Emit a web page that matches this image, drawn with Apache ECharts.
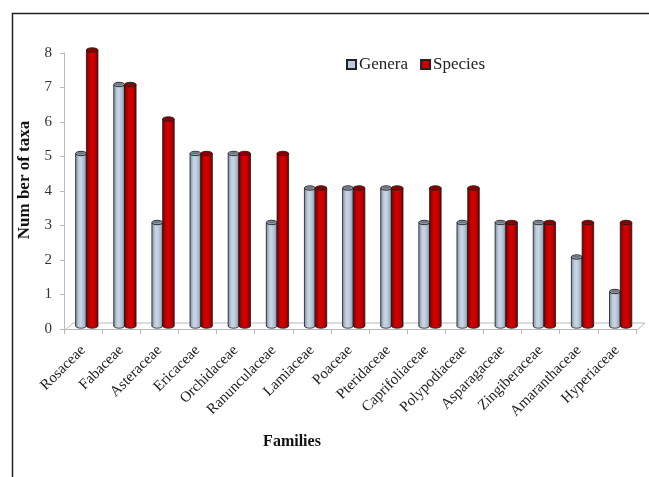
<!DOCTYPE html>
<html>
<head>
<meta charset="utf-8">
<script src="https://cdn.jsdelivr.net/npm/echarts@6/dist/echarts.min.js"></script>
<style>
  html, body { margin: 0; padding: 0; background: #fff; }
  #chart { width: 649px; height: 477px; }
</style>
</head>
<body>
<div id="chart"></div>
<script>
// Families and their counts of genera and species
const families = ['Rosaceae', 'Fabaceae', 'Asteraceae', 'Ericaceae', 'Orchidaceae', 'Ranunculaceae',
  'Lamiaceae', 'Poaceae', 'Pteridaceae', 'Caprifoliaceae', 'Polypodiaceae', 'Asparagaceae',
  'Zingiberaceae', 'Amaranthaceae', 'Hyperiaceae'];
const genera  = [5, 7, 3, 5, 5, 3, 4, 4, 4, 3, 3, 3, 3, 2, 1];
const species = [8, 7, 6, 5, 5, 5, 4, 4, 4, 4, 4, 3, 3, 3, 3];
const seriesNames = ['Genera', 'Species'];
const yMin = 0, yMax = 8, yStep = 1;

const serif = "'Liberation Serif', 'Times New Roman', serif";

// Cylinder shading per series
const palette = {
  Genera: {
    base: '#bccadb',
    body: ['#7f8da0', '#c0cee0', '#c8d5e5', '#a9b8cb', '#6f7c8e'],
    top: '#6b737d', topInner: '#9aa5b2'
  },
  Species: {
    base: '#cc0000',
    body: ['#7a0000', '#c80000', '#d40000', '#b80000', '#6a0000'],
    top: '#7a0000', topInner: '#a80000'
  }
};

// Each series draws a cylinder offset inside the category band
const bandOffsets = { Genera: [-0.195, 0.087], Species: [0.087, 0.39] };
const depth = 3;

function cylinder(name) {
  const pal = palette[name];
  return function (params, api) {
    const idx = api.value(0);
    const val = api.value(1);
    const top = api.coord([idx, val]);
    const base = api.coord([idx, 0]);
    const band = api.size([1, 0])[0];
    const x0 = top[0] + bandOffsets[name][0] * band;
    const x1 = top[0] + bandOffsets[name][1] * band;
    const w = x1 - x0;
    const cx = x0 + w / 2;
    const rx = w / 2;
    const ry = 2.2;
    const yTop = top[1] - depth;
    const yBot = base[1] - depth;
    const grad = new echarts.graphic.LinearGradient(0, 0, 1, 0, [
      { offset: 0, color: pal.body[0] },
      { offset: 0.3, color: pal.body[1] },
      { offset: 0.5, color: pal.body[2] },
      { offset: 0.8, color: pal.body[3] },
      { offset: 1, color: pal.body[4] }
    ]);
    return {
      type: 'group',
      children: [
        { type: 'ellipse', shape: { cx: cx, cy: yBot, rx: rx, ry: ry },
          style: { fill: grad, stroke: '#1a1a1a', lineWidth: 0.8 } },
        { type: 'rect', shape: { x: x0, y: yTop, width: w, height: yBot - yTop },
          style: { fill: grad, stroke: null } },
        { type: 'line', shape: { x1: x0, y1: yTop, x2: x0, y2: yBot },
          style: { stroke: '#1a1a1a', lineWidth: 0.8 } },
        { type: 'line', shape: { x1: x1, y1: yTop, x2: x1, y2: yBot },
          style: { stroke: '#1a1a1a', lineWidth: 0.8 } },
        { type: 'ellipse', shape: { cx: cx, cy: yTop, rx: rx, ry: ry },
          style: { fill: pal.topInner, stroke: '#1a1a1a', lineWidth: 0.9 } },
        { type: 'ellipse', shape: { cx: cx, cy: yTop - 0.3, rx: rx * 0.7, ry: ry * 0.45 },
          style: { fill: pal.top, stroke: null } }
      ]
    };
  };
}

// Back edge of the 3-D floor under the columns
function floor(params, api) {
  const cs = params.coordSys;
  const yFront = cs.y + cs.height + 2;
  const shiftX = 9, shiftY = 8;
  return {
    type: 'polyline',
    silent: true,
    shape: { points: [
      [cs.x, yFront],
      [cs.x + shiftX, yFront - shiftY],
      [cs.x + cs.width + shiftX, yFront - shiftY],
      [cs.x + cs.width, yFront]
    ] },
    style: { stroke: '#b8b8b8', lineWidth: 1, fill: null }
  };
}

const chart = echarts.init(document.getElementById('chart'), null, { renderer: 'canvas' });

chart.setOption({
  backgroundColor: '#ffffff',
  animation: false,
  textStyle: { fontFamily: serif },
  grid: { left: 64, right: 13, top: 53, bottom: 148, containLabel: false },
  legend: {
    data: seriesNames,
    left: 346, top: 56, padding: 0,
    icon: 'rect', itemWidth: 9, itemHeight: 9, itemGap: 12,
    textStyle: { fontFamily: serif, fontSize: 17, color: '#222', padding: [0, 0, 0, -2] }
  },
  xAxis: {
    type: 'category',
    data: families,
    offset: 2,
    name: 'Families',
    nameLocation: 'middle',
    nameGap: 103,
    nameTextStyle: { fontFamily: serif, fontSize: 16, fontWeight: 'bold', color: '#111', padding: [0, 116, 0, 0] },
    axisLine: { lineStyle: { color: '#b8b8b8', width: 1 } },
    axisTick: { show: true, length: 5, alignWithLabel: false, lineStyle: { color: '#b8b8b8' } },
    axisLabel: { rotate: 45, interval: 0, margin: 17, fontFamily: serif, fontSize: 15, color: '#222' }
  },
  yAxis: {
    type: 'value',
    min: yMin, max: yMax, interval: yStep,
    name: 'Num ber of taxa',
    nameLocation: 'middle',
    nameGap: 20,
    nameTextStyle: { fontFamily: serif, fontSize: 17, fontWeight: 'bold', color: '#111', padding: [0, 0, 0, 22] },
    axisLine: { show: true, lineStyle: { color: '#b8b8b8', width: 1 } },
    axisTick: { show: true, length: 4, lineStyle: { color: '#b8b8b8' } },
    axisLabel: { margin: 12, fontFamily: serif, fontSize: 15, color: '#333' },
    splitLine: { show: false }
  },
  graphic: [
    { type: 'rect', silent: true, z: -1,
      shape: { x: 12.5, y: 13.5, width: 700, height: 600 },
      style: { fill: null, stroke: '#222', lineWidth: 1.5 } }
  ],
  series: [
    { type: 'custom', name: 'floor', silent: true, renderItem: floor, data: [[0, 0]], z: 1,
      encode: { x: 0, y: 1 } },
    { type: 'custom', name: 'Genera', renderItem: cylinder('Genera'),
      itemStyle: { color: palette.Genera.base, borderColor: '#222', borderWidth: 1 },
      encode: { x: 0, y: 1 }, z: 2,
      data: genera.map((v, i) => [i, v]) },
    { type: 'custom', name: 'Species', renderItem: cylinder('Species'),
      itemStyle: { color: palette.Species.base, borderColor: '#222', borderWidth: 1 },
      encode: { x: 0, y: 1 }, z: 2,
      data: species.map((v, i) => [i, v]) }
  ]
});
</script>
</body>
</html>
